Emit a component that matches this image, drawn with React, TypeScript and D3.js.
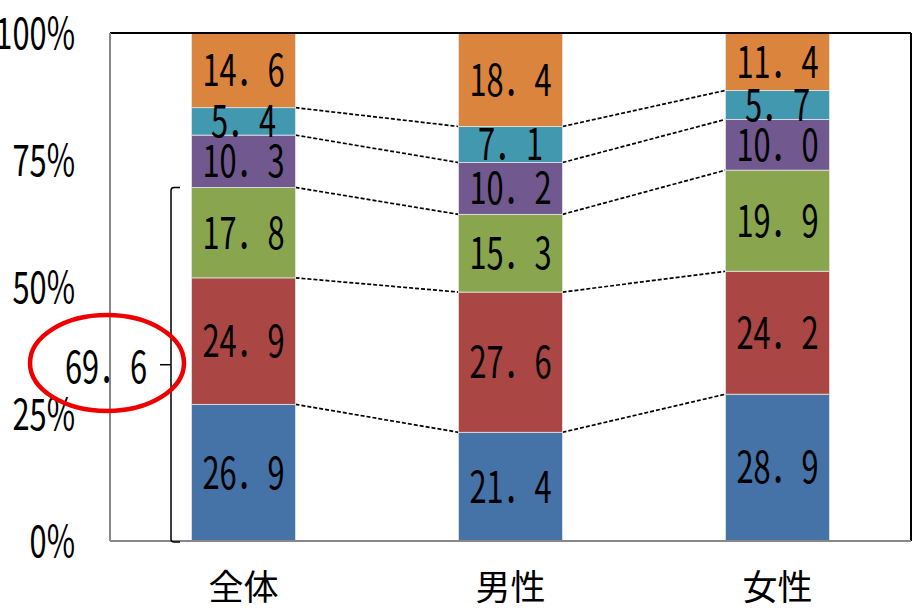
import React from "react";
import * as d3 from "d3";

const categories = ["全体", "男性", "女性"];
const seriesNames = ["s1", "s2", "s3", "s4", "s5", "s6"];
const seriesColors = ["#4572A7", "#AA4643", "#89A54E", "#71588F", "#4198AF", "#DB843D"];
// values per category, bottom segment first
const valuesAll = [26.9, 24.9, 17.8, 10.3, 5.4, 14.6];
const valuesMale = [21.4, 27.6, 15.3, 10.2, 7.1, 18.4];
const valuesFemale = [28.9, 24.2, 19.9, 10.0, 5.7, 11.4];
const tickValues = [0, 25, 50, 75, 100];
const bracketTotal = 69.6;

const W = 914;
const H = 613;
const plot = { left: 110, right: 911, top: 33, bottom: 541 };
const NUM_FONT = "'Noto Sans CJK JP', 'Noto Sans', sans-serif";

function fmt(v: number) {
  return v.toFixed(1).replace(".", "．");
}

export default function App() {
  const table = [valuesAll, valuesMale, valuesFemale];
  const x = d3
    .scaleBand<string>()
    .domain(categories)
    .range([plot.left, plot.right])
    .paddingInner(0.6105)
    .paddingOuter(0.6105 / 2);
  const y = d3.scaleLinear().domain([0, 100]).range([plot.bottom, plot.top]);

  const rows = categories.map((c, i) => {
    const o: Record<string, any> = { cat: c };
    seriesNames.forEach((s, j) => (o[s] = table[i][j]));
    return o;
  });
  const stacked = d3.stack<any>().keys(seriesNames)(rows);
  const bw = x.bandwidth();

  // cumulative boundaries for the dashed connectors
  const boundaries = seriesNames.slice(0, -1).map((_, k) =>
    table.map((vals) => d3.sum(vals.slice(0, k + 1)))
  );

  const bx = 171;
  const bTop = y(bracketTotal);
  const bBot = y(0) + 1;
  const bMid = (bTop + bBot) / 2;

  return (
    <svg
      width={W}
      height={H}
      style={{ position: "absolute", left: 0, top: 0, background: "#fff" }}
    >
      {/* connectors */}
      {boundaries.map((b, k) =>
        categories.slice(0, -1).map((c, i) => (
          <line
            key={`d${k}-${i}`}
            x1={(x(c) as number) + bw}
            x2={x(categories[i + 1]) as number}
            y1={y(b[i])}
            y2={y(b[i + 1])}
            stroke="#000"
            strokeWidth={1.7}
            strokeDasharray="4,2"
          />
        ))
      )}

      {/* bars */}
      {stacked.map((layer, j) =>
        layer.map((d, i) => (
          <rect
            key={`r${j}-${i}`}
            x={x(categories[i])}
            y={y(Math.min(d[1], 100))}
            width={bw}
            height={y(d[0]) - y(Math.min(d[1], 100))}
            fill={seriesColors[j]}
            stroke="#e4e4e4"
            strokeWidth={0.8}
          />
        ))
      )}

      {/* segment labels */}
      {stacked.map((layer, j) =>
        layer.map((d, i) => {
          const cx = (x(categories[i]) as number) + bw / 2;
          const cy = (y(d[0]) + y(Math.min(d[1], 100))) / 2;
          return (
            <text
              key={`t${j}-${i}`}
              transform={`translate(${cx},${cy}) scale(0.7,1)`}
              textAnchor="middle"
              dy="0.36em"
              fontFamily={NUM_FONT}
              fontSize={44}
              fill="#000"
            >
              {fmt(table[i][j])}
            </text>
          );
        })
      )}

      {/* frame */}
      <line x1={plot.left} x2={plot.right} y1={plot.top} y2={plot.top} stroke="#000" strokeWidth={2} />
      <line x1={plot.right} x2={plot.right} y1={plot.top} y2={plot.bottom} stroke="#000" strokeWidth={2} />
      <line x1={plot.left} x2={plot.left} y1={plot.top} y2={plot.bottom} stroke="#888" strokeWidth={2} />
      <line x1={plot.left} x2={plot.right} y1={plot.bottom} y2={plot.bottom} stroke="#888" strokeWidth={2} />

      {/* y tick labels */}
      {tickValues.map((t) => (
        <text
          key={`y${t}`}
          transform={`translate(75,${y(t)}) scale(0.7,1)`}
          textAnchor="end"
          dy="0.36em"
          fontFamily={NUM_FONT}
          fontSize={44}
          fill="#000"
        >
          {`${t}%`}
        </text>
      ))}

      {/* category labels */}
      {categories.map((c) => (
        <text
          key={c}
          x={(x(c) as number) + bw / 2}
          y={587}
          textAnchor="middle"
          dy="0.36em"
          fontFamily={NUM_FONT}
          fontSize={35}
          fill="#000"
        >
          {c}
        </text>
      ))}

      {/* bracket */}
      <path
        d={`M${bx + 9},${bTop} L${bx + 3},${bTop} Q${bx},${bTop} ${bx},${bTop + 3} L${bx},${bBot - 3} Q${bx},${bBot} ${bx + 3},${bBot} L${bx + 9},${bBot}`}
        fill="none"
        stroke="#000"
        strokeWidth={1.5}
      />
      <line x1={bx - 11} x2={bx} y1={bMid} y2={bMid} stroke="#000" strokeWidth={1.5} />
      <text
        transform={`translate(106,${bMid + 2}) scale(0.7,1)`}
        textAnchor="middle"
        dy="0.36em"
        fontFamily={NUM_FONT}
        fontSize={44}
        fill="#000"
      >
        {fmt(bracketTotal)}
      </text>
      <ellipse cx={107} cy={363} rx={77} ry={48} fill="none" stroke="#ee0000" strokeWidth={4.5} />
    </svg>
  );
}
